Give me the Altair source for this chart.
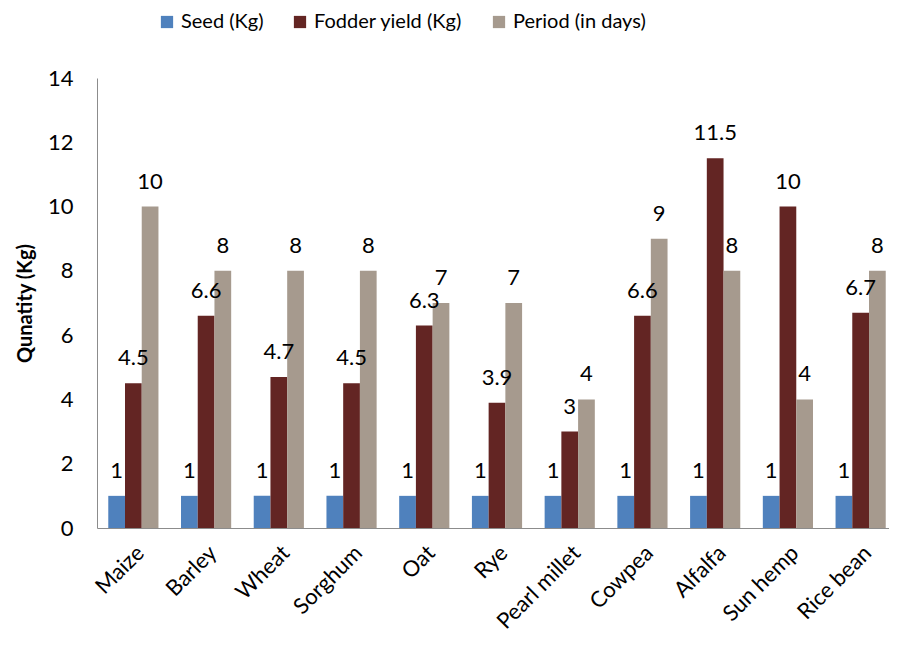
import altair as alt
import pandas as pd

crops = ["Maize", "Barley", "Wheat", "Sorghum", "Oat", "Rye", "Pearl millet",
         "Cowpea", "Alfalfa", "Sun hemp", "Rice bean"]
seed = [1, 1, 1, 1, 1, 1, 1, 1, 1, 1, 1]
fodder = [4.5, 6.6, 4.7, 4.5, 6.3, 3.9, 3, 6.6, 11.5, 10, 6.7]
period = [10, 8, 8, 8, 7, 7, 4, 9, 8, 4, 8]
series = ["Seed (Kg)", "Fodder yield (Kg)", "Period (in days)"]
colors = ["#4f81bd", "#632523", "#a69a8e"]
y_ticks = [0, 2, 4, 6, 8, 10, 12, 14]

rows = []
for i, c in enumerate(crops):
    for s, vals in zip(series, [seed, fodder, period]):
        v = vals[i]
        rows.append({"crop": c, "series": s, "value": v, "label": f"{v:g}"})
df = pd.DataFrame(rows)

FONT = "Lato"

x = alt.X(
    "crop:N", sort=crops, title=None,
    scale=alt.Scale(range=[0, 800], paddingInner=0.31, paddingOuter=0.155),
    axis=alt.Axis(labelAngle=-45, labelFontSize=22, labelColor="black", ticks=False,
                  domainColor="#8c8c8c", labelPadding=14, labelFont=FONT),
)
xo = alt.XOffset("series:N", sort=series)
y = alt.Y(
    "value:Q",
    scale=alt.Scale(domain=[0, 14], nice=False),
    axis=alt.Axis(values=y_ticks, grid=False, ticks=False, domainColor="#8c8c8c",
                  labelFontSize=22, labelColor="black", labelPadding=24, labelFont=FONT,
                  title="Qunatity (Kg)", titleFontSize=20, titleFontWeight="bold",
                  titleFont=FONT, titleColor="black", titlePadding=12),
)
color = alt.Color(
    "series:N", sort=series,
    scale=alt.Scale(domain=series, range=colors),
    legend=alt.Legend(orient="none", legendX=60, legendY=-66, direction="horizontal",
                      title=None, labelFontSize=20, labelFont=FONT, labelColor="black",
                      symbolType="square", symbolSize=150, symbolStrokeWidth=0,
                      columnPadding=26, padding=0),
)

bars = alt.Chart(df).mark_bar().encode(x=x, xOffset=xo, y=y, color=color)
texts = alt.Chart(df).mark_text(dy=-25, fontSize=22, font=FONT, color="black").encode(
    x=x, xOffset=xo, y=y, text="label:N"
)

chart = alt.layer(bars, texts).properties(
    width=792, height=450,
    autosize="none",
    padding={"left": 89, "top": 70, "right": 0, "bottom": 110},
).configure_view(stroke=None)

chart.save("out.html", embed_options={"renderer": "svg", "actions": False})
